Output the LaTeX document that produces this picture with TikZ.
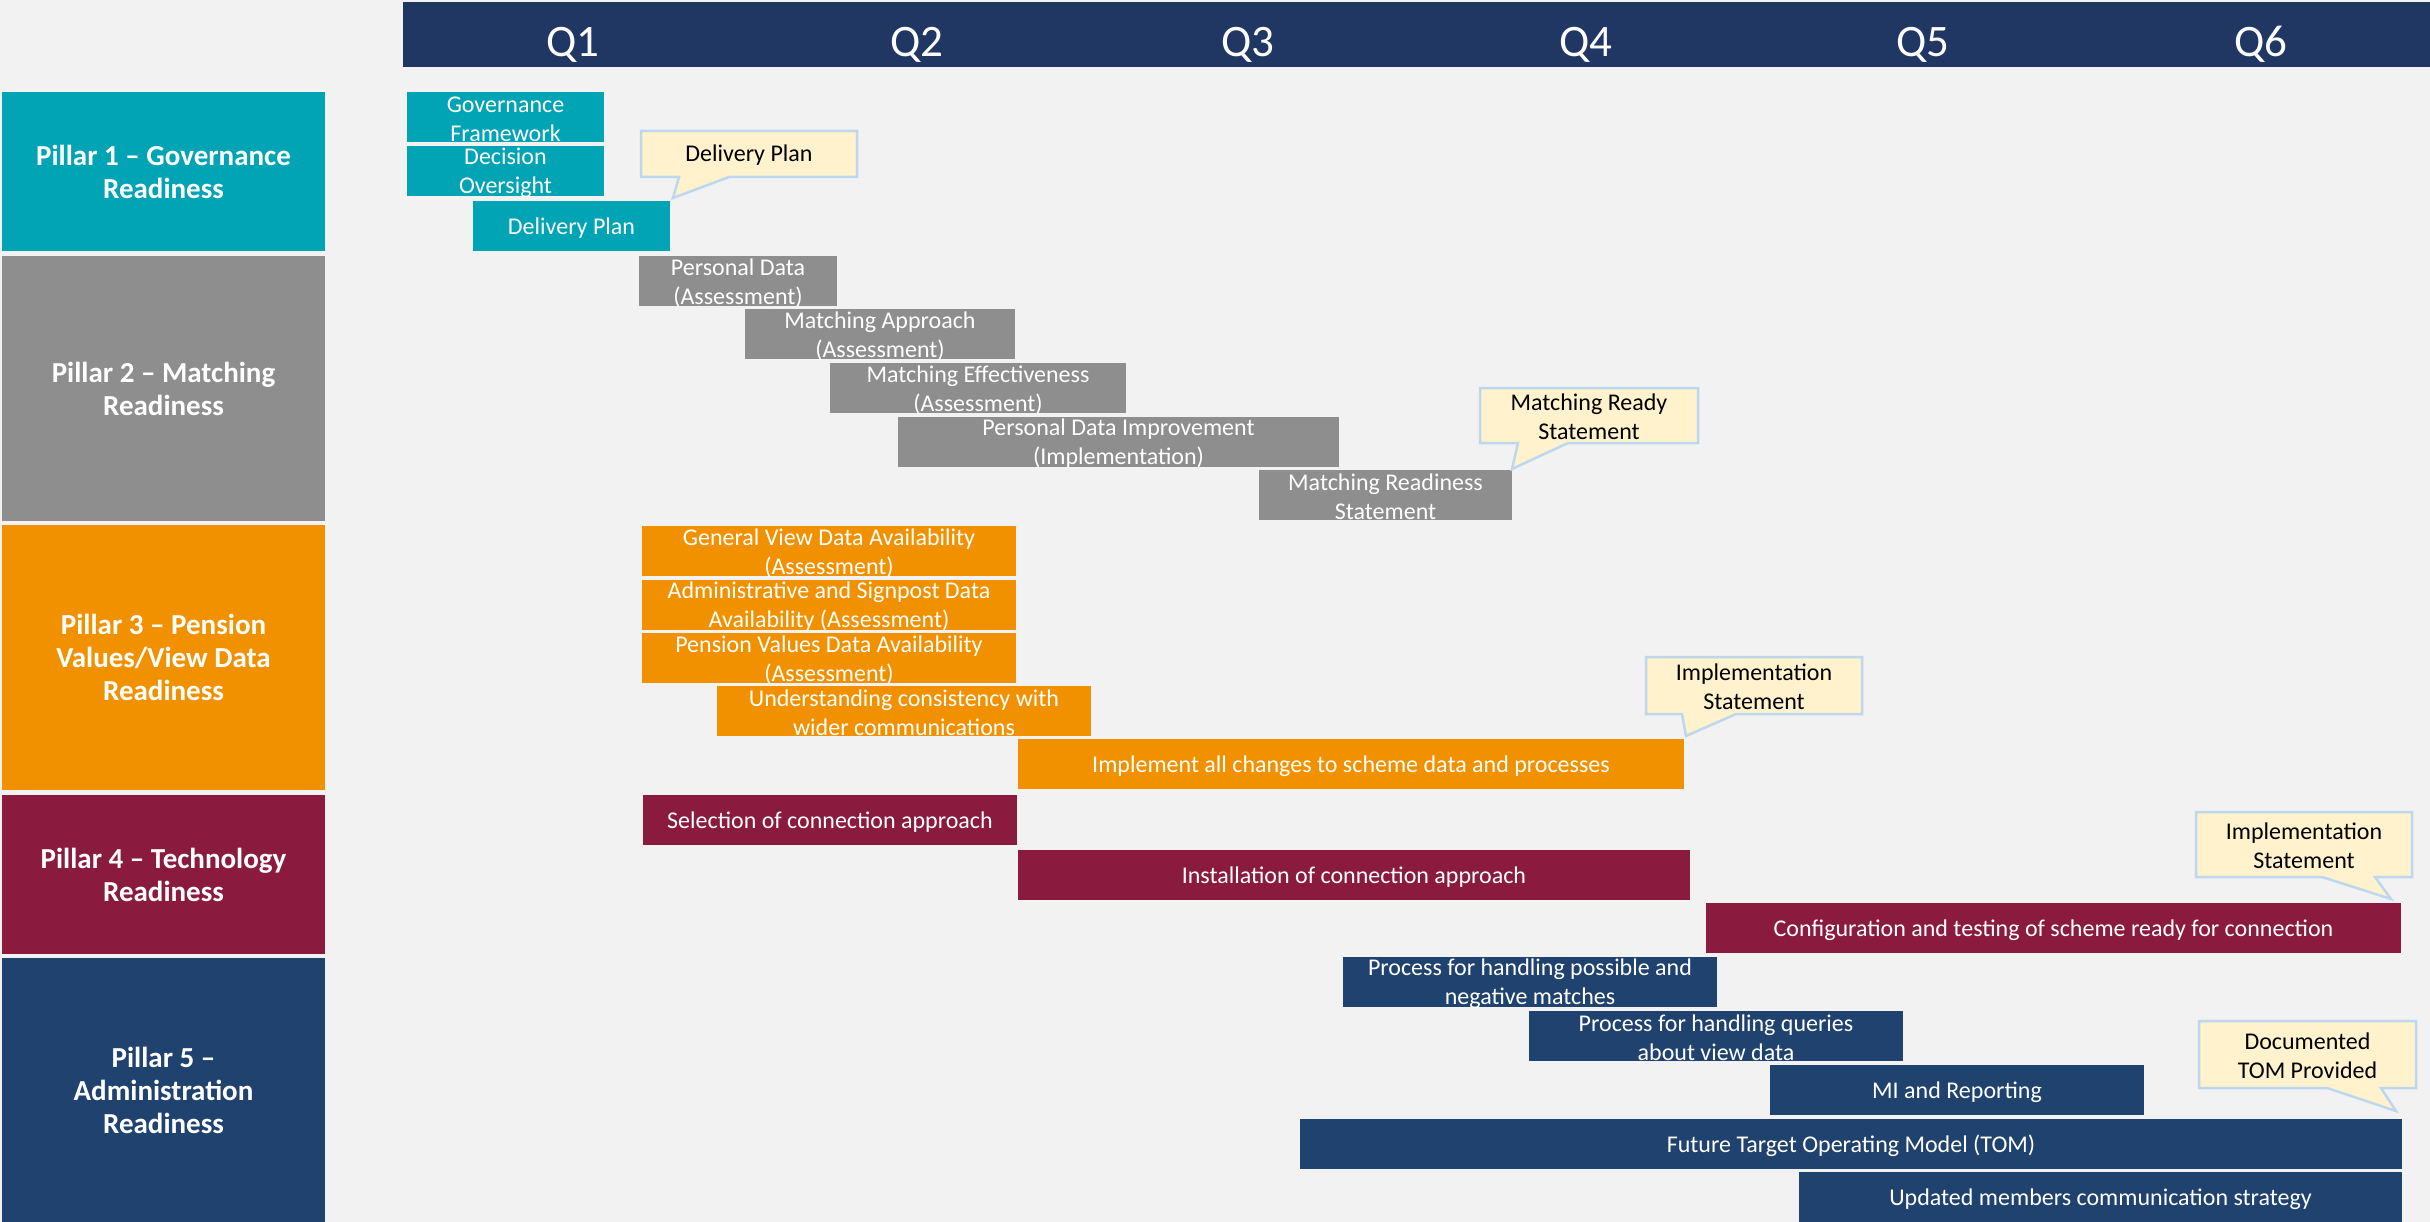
\documentclass[tikz,border=0pt]{standalone}
\usepackage{fontspec}
\setmainfont{Carlito}
\begin{document}
\definecolor{bgc}{HTML}{F2F2F2}
\definecolor{headc}{HTML}{213763}
\definecolor{tealc}{HTML}{00A4B4}
\definecolor{grayc}{HTML}{8D8E8D}
\definecolor{orangec}{HTML}{F29100}
\definecolor{maroonc}{HTML}{8B1A3F}
\definecolor{navyc}{HTML}{1F426F}
\definecolor{notefill}{HTML}{FFF2CC}
\definecolor{noteline}{HTML}{BDD7EE}
\begin{tikzpicture}[x=1pt,y=-1pt,
  pillar/.style={anchor=north west,inner sep=0pt,outer sep=0pt,text=white,align=center,
    font=\fontsize{29}{33}\selectfont\bfseries,minimum width=323pt},
  bar/.style={anchor=north west,inner sep=0pt,outer sep=0pt,minimum height=50pt},
  bartext/.style={text=white,align=center,inner sep=0pt,yshift=-2pt,font=\fontsize{24}{29}\selectfont},
  quarter/.style={text=white,anchor=base,inner sep=0pt,font=\fontsize{45}{50}\selectfont},
  note/.style={fill=notefill,draw=noteline,line width=2.5pt,line join=miter},
  notetext/.style={text=black,align=center,inner sep=0pt,yshift=-1pt,font=\fontsize{24}{29}\selectfont}]
\useasboundingbox (0,0) rectangle (2430,1222);
\fill[bgc] (0,0) rectangle (2430,1222);

% quarter header
\fill[headc] (403,2) rectangle (2430,67);
\node[quarter] (q1) at (573,57) {Q1};
\node[quarter] (q2) at (917,57) {Q2};
\node[quarter] (q3) at (1248,57) {Q3};
\node[quarter] (q4) at (1586,57) {Q4};
\node[quarter] (q5) at (1923,57) {Q5};
\node[quarter] (q6) at (2261,57) {Q6};

% pillar labels
\node[pillar,fill=tealc,minimum height=159pt] (p1) at (2,92) {Pillar 1 – Governance\\Readiness};
\node[pillar,fill=grayc,minimum height=265pt] (p2) at (2,256) {Pillar 2 – Matching\\Readiness};
\node[pillar,fill=orangec,minimum height=265pt] (p3) at (2,525) {Pillar 3 – Pension\\Values/View Data\\Readiness};
\node[pillar,fill=maroonc,minimum height=159pt] (p4) at (2,795) {Pillar 4 – Technology\\Readiness};
\node[pillar,fill=navyc,minimum height=264pt] (p5) at (2,958) {Pillar 5 –\\Administration\\Readiness};

% pillar 1 activities
\node[bar,fill=tealc,minimum width=197pt] (gf) at (407,92) {};
\node[bartext] at (gf) {Governance\\Framework};
\node[bar,fill=tealc,minimum width=197pt] (do) at (407,146) {};
\node[bartext] at (do) {Decision\\Oversight};
\node[bar,fill=tealc,minimum width=197pt] (dp) at (473,201) {};
\node[bartext] at (dp) {Delivery Plan};

% pillar 2 activities
\node[bar,fill=grayc,minimum width=198pt] (pda) at (639,256) {};
\node[bartext] at (pda) {Personal Data\\(Assessment)};
\node[bar,fill=grayc,minimum width=270pt] (maa) at (745,309) {};
\node[bartext] at (maa) {Matching Approach\\(Assessment)};
\node[bar,fill=grayc,minimum width=296pt] (mea) at (830,363) {};
\node[bartext] at (mea) {Matching Effectiveness\\(Assessment)};
\node[bar,fill=grayc,minimum width=441pt] (pdi) at (898,417) {};
\node[bartext] at (pdi) {Personal Data Improvement\\(Implementation)};
\node[bar,fill=grayc,minimum width=253pt] (mrs) at (1259,470) {};
\node[bartext] at (mrs) {Matching Readiness\\Statement};

% pillar 3 activities
\node[bar,fill=orangec,minimum width=374pt] (gvd) at (642,526) {};
\node[bartext] at (gvd) {General View Data Availability\\(Assessment)};
\node[bar,fill=orangec,minimum width=374pt] (asd) at (642,580) {};
\node[bartext] at (asd) {Administrative and Signpost Data\\Availability (Assessment)};
\node[bar,fill=orangec,minimum width=374pt] (pvd) at (642,633) {};
\node[bartext] at (pvd) {Pension Values Data Availability\\(Assessment)};
\node[bar,fill=orangec,minimum width=374pt] (ucw) at (717,686) {};
\node[bartext] at (ucw) {Understanding consistency with\\wider communications};
\node[bar,fill=orangec,minimum width=666pt] (iac) at (1018,739) {};
\node[bartext] at (iac) {Implement all changes to scheme data and processes};

% pillar 4 activities
\node[bar,fill=maroonc,minimum width=374pt] (sca) at (643,795) {};
\node[bartext] at (sca) {Selection of connection approach};
\node[bar,fill=maroonc,minimum width=672pt] (ica) at (1018,850) {};
\node[bartext] at (ica) {Installation of connection approach};
\node[bar,fill=maroonc,minimum width=695pt] (cts) at (1706,903) {};
\node[bartext] at (cts) {Configuration and testing of scheme ready for connection};

% pillar 5 activities
\node[bar,fill=navyc,minimum width=374pt] (phm) at (1343,957) {};
\node[bartext] at (phm) {Process for handling possible and\\negative matches};
\node[bar,fill=navyc,minimum width=374pt] (phq) at (1529,1011) {};
\node[bartext] at (phq) {Process for handling queries\\about view data};
\node[bar,fill=navyc,minimum width=374pt] (mir) at (1770,1065) {};
\node[bartext] at (mir) {MI and Reporting};
\node[bar,fill=navyc,minimum width=1102pt] (tom) at (1300,1119) {};
\node[bartext] at (tom) {Future Target Operating Model (TOM)};
\node[bar,fill=navyc,minimum width=603pt] (umc) at (1799,1172) {};
\node[bartext] at (umc) {Updated members communication strategy};

% milestone callouts
\draw[note] (641,131) -- (857,131) -- (857,177) -- (729,177) -- (673,198) -- (679,177) -- (641,177) -- cycle;
\node[notetext] (n1) at (749,154) {Delivery Plan};

\draw[note] (1480,388) -- (1698,388) -- (1698,443) -- (1568,443) -- (1512,469) -- (1518,443) -- (1480,443) -- cycle;
\node[notetext] (n2) at (1589,415.5) {Matching Ready\\Statement};

\draw[note] (1646,657) -- (1862,657) -- (1862,714) -- (1736,714) -- (1686,736) -- (1682,714) -- (1646,714) -- cycle;
\node[notetext] (n3) at (1754,685.5) {Implementation\\Statement};

\draw[note] (2196,812) -- (2412,812) -- (2412,877) -- (2375,877) -- (2391,899) -- (2322,877) -- (2196,877) -- cycle;
\node[notetext] (n4) at (2304,844.5) {Implementation\\Statement};

\draw[note] (2199,1021) -- (2416,1021) -- (2416,1088) -- (2381,1088) -- (2396,1111) -- (2327,1088) -- (2199,1088) -- cycle;
\node[notetext] (n5) at (2307.5,1054.5) {Documented\\TOM Provided};
\end{tikzpicture}
\end{document}
